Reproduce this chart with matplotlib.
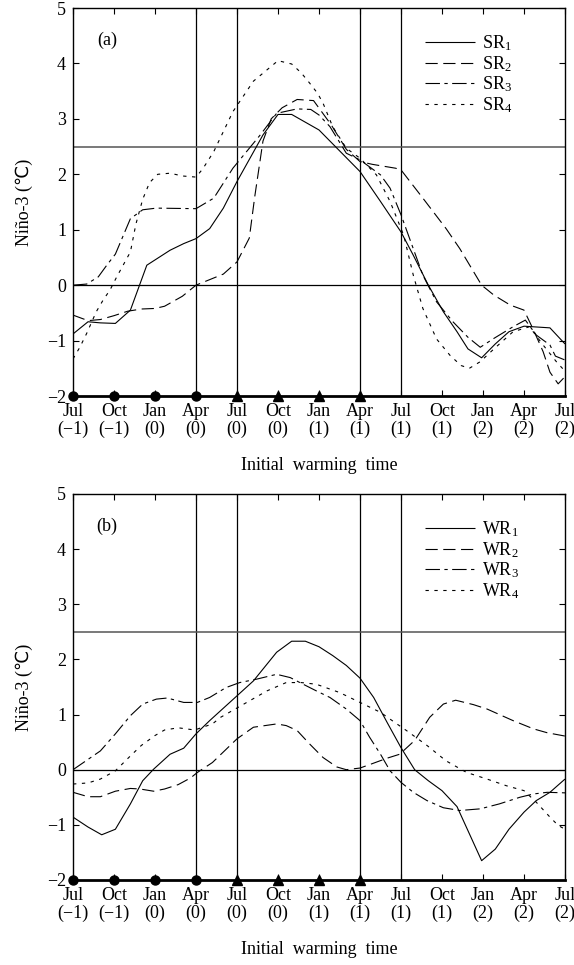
import matplotlib.pyplot as plt

plt.rcParams['font.family'] = ['Liberation Serif', 'DejaVu Sans', 'Noto Sans CJK SC']
plt.rcParams['mathtext.default'] = 'regular'

# months counted from Jul(-1)
tick_months = [0, 3, 6, 9, 12, 15, 18, 21, 24, 27, 30, 33, 36]
tick_labels = ['Jul\n(−1)', 'Oct\n(−1)', 'Jan\n(0)', 'Apr\n(0)', 'Jul\n(0)', 'Oct\n(0)',
               'Jan\n(1)', 'Apr\n(1)', 'Jul\n(1)', 'Oct\n(1)', 'Jan\n(2)', 'Apr\n(2)', 'Jul\n(2)']
circle_months = [0, 3, 6, 9]
triangle_months = [12, 15, 18, 21]
vline_months = [9, 12, 21, 24]

# panel (a)
sr1_x = [0, 1.1, 2, 3.1, 4.2, 5.4, 7.1, 8.1, 9, 10, 11, 12, 13.9, 15, 16, 18, 21, 22.5, 24, 24.9,
         26, 27.1, 28.1, 28.9, 29.9, 30.9, 31.9, 33, 34.9, 36]
sr1_y = [-0.88, -0.66, -0.68, -0.69, -0.45, 0.36, 0.63, 0.75, 0.84, 1.02, 1.39, 1.87, 2.71, 3.08, 3.08,
         2.80, 2.05, 1.51, 0.96, 0.54, 0.0, -0.48, -0.84, -1.15, -1.31, -1.06, -0.84, -0.74, -0.77, -1.06]
sr2_x = [0, 1.1, 2, 3, 4, 5, 6, 6.7, 8, 9, 10, 11, 12, 12.9, 13.3, 13.9, 14.5, 15.3, 16.4, 17.6, 18.9,
         20, 21, 21.9, 23.6, 24, 25.6, 27.3, 28.3, 29.9, 30.8, 32, 33, 33.7, 34.4, 34.9, 35.5, 36]
sr2_y = [-0.54, -0.64, -0.62, -0.55, -0.47, -0.43, -0.42, -0.38, -0.2, 0.0, 0.1, 0.2, 0.42, 0.85, 1.6,
         2.6, 3.0, 3.2, 3.35, 3.33, 2.89, 2.45, 2.23, 2.18, 2.11, 2.08, 1.57, 1.02, 0.66, 0.0, -0.18,
         -0.36, -0.45, -0.81, -1.2, -1.57, -1.78, -1.65]
sr3_x = [0, 1, 1.85, 2.5, 3.1, 4.2, 5.1, 6.1, 9, 10.3, 11.7, 13.7, 14.9, 16.4, 17.4, 18, 18.8, 20, 21,
         22.5, 23.2, 24, 25.6, 26.6, 27.8, 28.9, 29.8, 30.8, 32.2, 33.1, 33.9, 34.9, 35.3, 36]
sr3_y = [0.0, 0.02, 0.15, 0.37, 0.56, 1.2, 1.36, 1.39, 1.38, 1.57, 2.11, 2.71, 3.10, 3.18, 3.17, 3.07,
         2.86, 2.38, 2.26, 1.99, 1.75, 1.27, 0.18, -0.3, -0.66, -0.94, -1.12, -0.96, -0.75, -0.63,
         -0.9, -1.08, -1.28, -1.35]
sr4_x = [0, 0.5, 1, 1.7, 2.2, 2.7, 3.2, 4.2, 4.6, 5.1, 5.6, 6.2, 7.1, 8, 9, 9.5, 10.3, 11.7, 13.2, 15,
         16, 16.7, 17.3, 17.9, 18.3, 19, 20, 21, 22.2, 23.2, 24.2, 24.9, 25.6, 26.6, 27.6, 28.4, 29,
         29.8, 30.8, 32.2, 33.4, 34.4, 35.4, 36]
sr4_y = [-1.33, -1.12, -0.87, -0.48, -0.27, -0.09, 0.15, 0.6, 1.1, 1.55, 1.85, 2.0, 2.02, 1.97, 1.95,
         2.1, 2.41, 3.13, 3.68, 4.05, 3.99, 3.83, 3.65, 3.46, 3.28, 2.86, 2.47, 2.29, 1.99, 1.51, 0.9,
         0.18, -0.42, -0.97, -1.27, -1.45, -1.5, -1.38, -1.15, -0.84, -0.75, -1.08, -1.39, -1.55]

# panel (b)
wr1_x = [0, 1.1, 2.1, 3.1, 4.2, 5.1, 5.9, 7.1, 8.1, 9, 10, 12, 13.2, 14.9, 16, 17, 18, 19, 20, 21, 22,
         23, 24, 25, 26, 27, 28.1, 29.9, 30.9, 31.9, 33, 33.9, 34.9, 36]
wr1_y = [-0.86, -1.04, -1.18, -1.08, -0.62, -0.2, 0.01, 0.28, 0.39, 0.65, 0.89, 1.34, 1.61, 2.13, 2.33,
         2.33, 2.23, 2.07, 1.89, 1.66, 1.31, 0.85, 0.40, 0.0, -0.2, -0.38, -0.67, -1.65, -1.44, -1.08,
         -0.77, -0.56, -0.41, -0.17]
wr2_x = [0, 1.1, 2, 3.1, 4.2, 4.9, 5.9, 6.7, 7.7, 8.6, 9.1, 10.2, 12, 13.2, 14.9, 15.6, 16.4, 17.3, 18.3,
         19.3, 20, 21, 21.9, 23, 23.9, 25, 26.1, 27.1, 28, 29.3, 30.3, 32.2, 33.7, 34.7, 36]
wr2_y = [-0.41, -0.49, -0.49, -0.39, -0.34, -0.35, -0.39, -0.35, -0.27, -0.15, -0.05, 0.13, 0.56, 0.77,
         0.83, 0.80, 0.71, 0.47, 0.22, 0.05, 0.0, 0.03, 0.11, 0.21, 0.28, 0.53, 0.95, 1.19, 1.26, 1.18,
         1.10, 0.89, 0.74, 0.67, 0.61]
wr3_x = [0, 2, 3.1, 4.2, 5.1, 6.1, 6.9, 8.1, 9.1, 10, 11.2, 12.2, 13.4, 14.9, 15.9, 16.6, 17.8, 18.8, 20,
         21, 21.7, 22.5, 23.2, 24, 24.9, 25.9, 27.1, 28.3, 29.8, 31.2, 32.7, 33.7, 34.7, 36]
wr3_y = [0.0, 0.34, 0.65, 0.98, 1.19, 1.28, 1.30, 1.22, 1.22, 1.31, 1.49, 1.58, 1.64, 1.73, 1.67, 1.58,
         1.43, 1.31, 1.10, 0.89, 0.59, 0.28, -0.02, -0.23, -0.41, -0.56, -0.69, -0.74, -0.71, -0.62,
         -0.50, -0.44, -0.41, -0.42]
wr4_x = [0, 1.1, 2, 3.1, 4.2, 5, 6, 6.7, 7.7, 8.9, 10.2, 10.8, 12.5, 14.2, 15.6, 16.7, 17.8, 19.5, 21,
         22.5, 23.7, 24.4, 25.9, 27.3, 28.8, 30.3, 31.7, 33, 33.9, 34.9, 35.5, 36]
wr4_y = [-0.26, -0.24, -0.17, -0.02, 0.25, 0.44, 0.62, 0.72, 0.76, 0.72, 0.83, 0.95, 1.19, 1.43, 1.58,
         1.58, 1.55, 1.40, 1.22, 1.04, 0.83, 0.71, 0.44, 0.16, -0.05, -0.17, -0.29, -0.38, -0.59,
         -0.86, -1.01, -1.08]

styles = [(0, ()), (0, (11, 5)), (0, (13, 4, 3, 4)), (0, (3, 5))]


def draw_panel(ax, series, names, tag):
    for m in vline_months:
        ax.axvline(m, color='black', lw=0.9, zorder=1)
    ax.axhline(0, color='black', lw=0.9, zorder=1)
    ax.axhline(2.5, color='#555555', lw=1.1, zorder=1)

    for (xs, ys), name, ls in zip(series, names, styles):
        ax.plot(xs, ys, color='black', lw=0.8, linestyle=ls, label=name)

    ax.plot(circle_months, [-2] * len(circle_months), 'o', color='black', ms=6.5, clip_on=False, zorder=5)
    ax.plot(triangle_months, [-2] * len(triangle_months), '^', color='black', ms=6.5, clip_on=False, zorder=5)

    ax.set_xlim(0, 36)
    ax.set_ylim(-2, 5)
    ax.set_xticks(tick_months)
    ax.set_xticklabels(tick_labels, fontsize=13, linespacing=1.05)
    ax.set_yticks(range(-2, 6))
    ax.set_yticklabels(['−2', '−1', '0', '1', '2', '3', '4', '5'], fontsize=13)
    ax.tick_params(direction='in', length=4, top=True, right=True, pad=5)
    for sp in ax.spines.values():
        sp.set_linewidth(1.0)
    ax.spines['bottom'].set_linewidth(2.0)
    ax.set_xlabel('Initial  warming  time', fontsize=13, labelpad=14)
    ax.set_ylabel('Niño-3 (℃)', fontsize=13, labelpad=10)
    ax.text(0.069, 0.917, tag, transform=ax.transAxes, fontsize=13, ha='center', va='center')
    ax.legend(loc='upper left', bbox_to_anchor=(0.715, 0.935), frameon=False, fontsize=13,
              handlelength=2.8, handletextpad=0.35, labelspacing=0.06, borderaxespad=0, borderpad=0)


fig = plt.figure(figsize=(5.74, 9.65), dpi=100)
ax1 = fig.add_axes([0.1272, 0.5896, 0.8571, 0.4021])
ax2 = fig.add_axes([0.1272, 0.0881, 0.8571, 0.4000])

draw_panel(ax1, [(sr1_x, sr1_y), (sr2_x, sr2_y), (sr3_x, sr3_y), (sr4_x, sr4_y)],
           ['SR$_1$', 'SR$_2$', 'SR$_3$', 'SR$_4$'], '(a)')
draw_panel(ax2, [(wr1_x, wr1_y), (wr2_x, wr2_y), (wr3_x, wr3_y), (wr4_x, wr4_y)],
           ['WR$_1$', 'WR$_2$', 'WR$_3$', 'WR$_4$'], '(b)')

fig.savefig('out.png', dpi=100)
